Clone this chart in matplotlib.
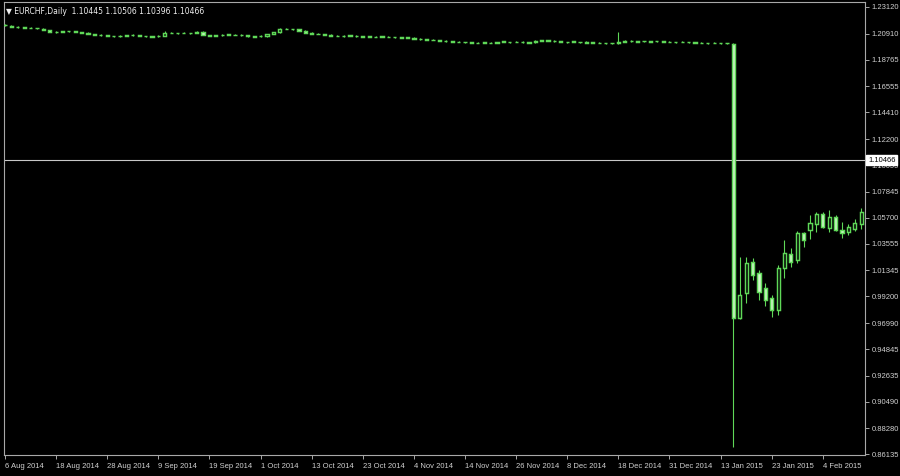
import matplotlib
matplotlib.use("Agg")
import matplotlib.pyplot as plt
import pandas as pd
import numpy as np

# ---------------- data ----------------
symbol_title = "\u25bc EURCHF,Daily  1.10445 1.10506 1.10396 1.10466"
holidays = ["2014-12-25", "2015-01-01"]
dates = pd.bdate_range("2014-08-06", "2015-02-12").drop(pd.to_datetime(holidays))

opens = [1.2165, 1.2158, 1.2148, 1.2143, 1.2140, 1.2139, 1.2134, 1.2122, 1.2103, 1.2106,
         1.2114, 1.2110, 1.2104, 1.2100, 1.2089, 1.2083, 1.2077, 1.2073, 1.2070, 1.2074,
         1.2082, 1.2078, 1.2073, 1.2066, 1.2071, 1.2076, 1.2100, 1.2094, 1.2100, 1.2094,
         1.2097, 1.2108, 1.2080, 1.2074, 1.2078, 1.2087, 1.2080, 1.2083, 1.2077, 1.2066,
         1.2074, 1.2071, 1.2090, 1.2104, 1.2134, 1.2131, 1.2129, 1.2115, 1.2099, 1.2092,
         1.2089, 1.2082, 1.2076, 1.2071, 1.2079, 1.2074, 1.2066, 1.2070, 1.2064, 1.2069,
         1.2067, 1.2065, 1.2058, 1.2062, 1.2057, 1.2050, 1.2046, 1.2043, 1.2039, 1.2034,
         1.2029, 1.2026, 1.2023, 1.2021, 1.2014, 1.2020, 1.2016, 1.2018, 1.2027, 1.2020,
         1.2026, 1.2024, 1.2017, 1.2021, 1.2033, 1.2038, 1.2034, 1.2029, 1.2019, 1.2027,
         1.2020, 1.2026, 1.2019, 1.2018, 1.2011, 1.2015, 1.2012, 1.2022, 1.2033, 1.2025,
         1.2032, 1.2026, 1.2032, 1.2029, 1.2026, 1.2020, 1.2026, 1.2023, 1.2021, 1.2017,
         1.2011, 1.2017, 1.2011, 1.2015,
         1.2010, 0.9741, 0.9948, 1.0204, 1.0113, 0.9989, 0.9907, 0.9807, 1.0155, 1.0270,
         1.0221, 1.0444, 1.0469, 1.0518, 1.0601, 1.0489, 1.0576, 1.0470, 1.0453, 1.0474,
         1.0518]

highs = [1.2168, 1.2161, 1.2151, 1.2146, 1.2143, 1.2142, 1.2137, 1.2125, 1.2110, 1.2114,
         1.2117, 1.2113, 1.2107, 1.2103, 1.2092, 1.2086, 1.2080, 1.2076, 1.2078, 1.2081,
         1.2085, 1.2081, 1.2076, 1.2073, 1.2078, 1.2116, 1.2103, 1.2100, 1.2103, 1.2100,
         1.2111, 1.2114, 1.2083, 1.2081, 1.2086, 1.2090, 1.2086, 1.2086, 1.2080, 1.2073,
         1.2077, 1.2092, 1.2106, 1.2136, 1.2137, 1.2134, 1.2132, 1.2118, 1.2102, 1.2095,
         1.2092, 1.2085, 1.2079, 1.2078, 1.2082, 1.2077, 1.2073, 1.2073, 1.2070, 1.2072,
         1.2070, 1.2068, 1.2064, 1.2065, 1.2060, 1.2053, 1.2049, 1.2046, 1.2042, 1.2037,
         1.2032, 1.2029, 1.2026, 1.2024, 1.2020, 1.2023, 1.2021, 1.2026, 1.2030, 1.2026,
         1.2029, 1.2027, 1.2023, 1.2036, 1.2040, 1.2041, 1.2037, 1.2032, 1.2026, 1.2030,
         1.2026, 1.2029, 1.2022, 1.2021, 1.2017, 1.2018, 1.2105, 1.2036, 1.2036, 1.2032,
         1.2035, 1.2032, 1.2035, 1.2032, 1.2029, 1.2026, 1.2029, 1.2026, 1.2024, 1.2020,
         1.2017, 1.2020, 1.2017, 1.2018,
         1.2012, 1.0245, 1.0245, 1.0237, 1.0138, 1.0031, 0.9931, 1.0179, 1.0386, 1.0320,
         1.0461, 1.0453, 1.0593, 1.0620, 1.0620, 1.0634, 1.0593, 1.0536, 1.0519, 1.0560,
         1.0651]

lows = [1.2157, 1.2144, 1.2141, 1.2138, 1.2135, 1.2133, 1.2121, 1.2102, 1.2100, 1.2103,
        1.2108, 1.2102, 1.2097, 1.2087, 1.2080, 1.2075, 1.2069, 1.2067, 1.2067, 1.2071,
        1.2075, 1.2069, 1.2067, 1.2063, 1.2068, 1.2073, 1.2094, 1.2091, 1.2094, 1.2091,
        1.2094, 1.2077, 1.2072, 1.2071, 1.2075, 1.2080, 1.2077, 1.2075, 1.2067, 1.2063,
        1.2067, 1.2068, 1.2087, 1.2101, 1.2127, 1.2125, 1.2113, 1.2097, 1.2086, 1.2086,
        1.2080, 1.2072, 1.2069, 1.2068, 1.2072, 1.2067, 1.2063, 1.2064, 1.2061, 1.2063,
        1.2061, 1.2059, 1.2055, 1.2055, 1.2047, 1.2042, 1.2039, 1.2036, 1.2030, 1.2026,
        1.2022, 1.2020, 1.2017, 1.2014, 1.2011, 1.2014, 1.2013, 1.2015, 1.2020, 1.2017,
        1.2020, 1.2017, 1.2014, 1.2018, 1.2030, 1.2030, 1.2026, 1.2020, 1.2016, 1.2020,
        1.2017, 1.2015, 1.2014, 1.2011, 1.2008, 1.2009, 1.2009, 1.2019, 1.2026, 1.2022,
        1.2026, 1.2023, 1.2026, 1.2022, 1.2020, 1.2017, 1.2020, 1.2017, 1.2014, 1.2011,
        1.2008, 1.2011, 1.2008, 1.2009,
        0.8675, 0.9730, 0.9865, 1.0055, 0.9890, 0.9840, 0.9752, 0.9766, 1.0072, 1.0163,
        1.0196, 1.0330, 1.0398, 1.0453, 1.0486, 1.0453, 1.0461, 1.0403, 1.0428, 1.0461,
        1.0474]

closes = [1.2160, 1.2147, 1.2144, 1.2141, 1.2138, 1.2136, 1.2124, 1.2105, 1.2107, 1.2111,
          1.2111, 1.2105, 1.2100, 1.2090, 1.2083, 1.2078, 1.2072, 1.2070, 1.2075, 1.2078,
          1.2078, 1.2072, 1.2070, 1.2070, 1.2075, 1.2097, 1.2097, 1.2097, 1.2097, 1.2097,
          1.2108, 1.2080, 1.2075, 1.2078, 1.2083, 1.2083, 1.2083, 1.2078, 1.2070, 1.2070,
          1.2070, 1.2089, 1.2103, 1.2130, 1.2130, 1.2128, 1.2116, 1.2100, 1.2089, 1.2089,
          1.2083, 1.2075, 1.2072, 1.2075, 1.2075, 1.2070, 1.2070, 1.2067, 1.2067, 1.2066,
          1.2064, 1.2062, 1.2061, 1.2058, 1.2050, 1.2045, 1.2042, 1.2039, 1.2033, 1.2029,
          1.2025, 1.2023, 1.2020, 1.2017, 1.2017, 1.2017, 1.2018, 1.2023, 1.2023, 1.2023,
          1.2023, 1.2020, 1.2020, 1.2033, 1.2037, 1.2033, 1.2029, 1.2023, 1.2023, 1.2023,
          1.2023, 1.2018, 1.2017, 1.2014, 1.2014, 1.2012, 1.2023, 1.2033, 1.2029, 1.2029,
          1.2029, 1.2029, 1.2029, 1.2025, 1.2023, 1.2023, 1.2023, 1.2020, 1.2017, 1.2014,
          1.2014, 1.2014, 1.2014, 1.2012,
          0.9741, 0.9931, 1.0196, 1.0097, 0.9956, 0.9890, 0.9807, 1.0155, 1.0279, 1.0204,
          1.0444, 1.0386, 1.0527, 1.0601, 1.0497, 1.0573, 1.0470, 1.0445, 1.0494, 1.0527,
          1.0618]

price_ticks = [1.23120, 1.20910, 1.18765, 1.16555, 1.14410, 1.12200, 1.10055, 1.07845,
               1.05700, 1.03555, 1.01345, 0.99200, 0.96990, 0.94845, 0.92635, 0.90490,
               0.88280, 0.86135]
date_labels = ["6 Aug 2014", "18 Aug 2014", "28 Aug 2014", "9 Sep 2014", "19 Sep 2014",
               "1 Oct 2014", "13 Oct 2014", "23 Oct 2014", "4 Nov 2014", "14 Nov 2014",
               "26 Nov 2014", "8 Dec 2014", "18 Dec 2014", "31 Dec 2014", "13 Jan 2015",
               "23 Jan 2015", "4 Feb 2015"]
bid_price = 1.10466

# ---------------- style ----------------
FONT = ["Liberation Sans", "DejaVu Sans"]
FS = 5.5
TXT = "#d0d0d0"
EDGE = "#5fd858"
BEAR = "#d4f7cc"
BULL = "#000000"
FRAME = "#a8a8a8"

W, H = 900, 476
fig = plt.figure(figsize=(W / 100, H / 100), dpi=100, facecolor="black")
left, right, top, bottom = 3.5, 865, 2, 455
ax = fig.add_axes([left / W, 1 - bottom / H, (right - left) / W, (bottom - top) / H])
ax.set_facecolor("black")

x = np.arange(len(dates))
o = np.array(opens); h = np.array(highs); l = np.array(lows); c = np.array(closes)
n = min(len(x), len(o))
x = x[:n]

# wicks
ax.vlines(x, l[:n], h[:n], color=EDGE, linewidth=0.8, zorder=2)
# bodies
body_low = np.minimum(o, c)[:n]
body_h = np.abs(c - o)[:n]
fills = [BEAR if cc < oo else BULL for oo, cc in zip(o[:n], c[:n])]
ax.bar(x, body_h, bottom=body_low, width=0.5, color=fills, edgecolor=EDGE,
       linewidth=1.05, zorder=3)

# bid line
ax.axhline(bid_price, color="#c8c8c8", linewidth=0.8, zorder=1)

# limits
ax.set_ylim(0.86089, 1.23533)
ax.set_xlim(-0.235, 134.6)

# y ticks on right
ax.yaxis.tick_right()
ax.set_yticks(price_ticks)
ax.set_yticklabels([f"{v:.5f}" for v in price_ticks])
ax.tick_params(axis="y", direction="out", length=3, width=0.7, color=FRAME,
               labelcolor=TXT, labelsize=FS, pad=2)
for t in ax.get_yticklabels():
    t.set_fontfamily(FONT)

# x ticks
tick_pos = [dates.get_loc(pd.to_datetime(s, format="%d %b %Y")) for s in date_labels]
ax.set_xticks(tick_pos)
ax.set_xticklabels(date_labels)
ax.tick_params(axis="x", direction="out", length=3, width=0.7, color=FRAME,
               labelcolor=TXT, labelsize=FS, pad=3)
for t in ax.get_xticklabels():
    t.set_fontfamily(FONT)
    t.set_horizontalalignment("left")

for s in ax.spines.values():
    s.set_color(FRAME)
    s.set_linewidth(0.8)

# title text
ax.text(0.003, 0.988, symbol_title, transform=ax.transAxes, color="#f0f0f0",
        fontsize=FS, family=["DejaVu Sans"], va="top", ha="left", zorder=5)

# bid price box
ax.text(1.0035, bid_price, f"{bid_price:.5f}", transform=ax.get_yaxis_transform(),
        color="black", fontsize=FS, family=FONT, va="center", ha="left", zorder=6,
        bbox=dict(boxstyle="square,pad=0.25", facecolor="white", edgecolor="white"),
        clip_on=False)

fig.savefig("out.png", dpi=100, facecolor="black")
